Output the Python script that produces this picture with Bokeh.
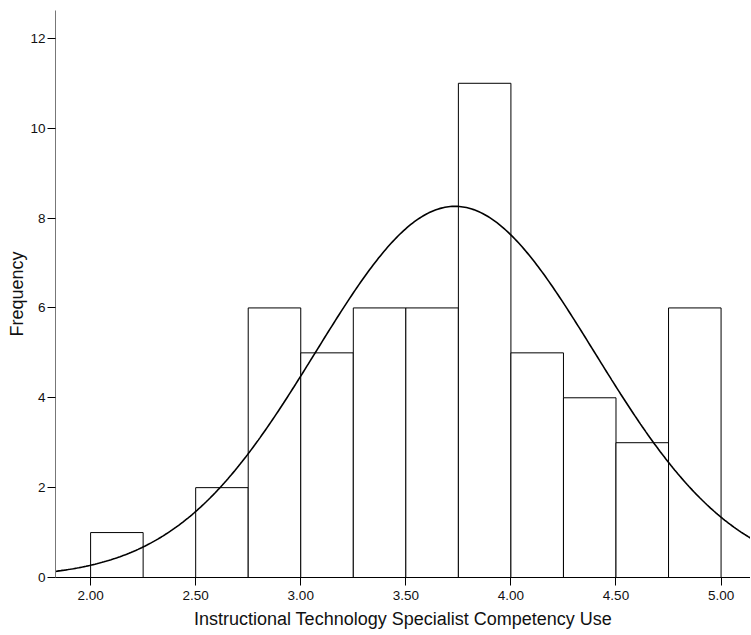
import numpy as np
from bokeh.plotting import figure
from bokeh.models import Range1d, FixedTicker, CustomJSTickFormatter
from bokeh.embed import file_html
from bokeh.resources import INLINE

# Histogram data
bin_left = [2.00, 2.25, 2.50, 2.75, 3.00, 3.25, 3.50, 3.75, 4.00, 4.25, 4.50, 4.75]
bin_right = [2.25, 2.50, 2.75, 3.00, 3.25, 3.50, 3.75, 4.00, 4.25, 4.50, 4.75, 5.00]
counts = [1, 0, 2, 6, 5, 6, 6, 11, 5, 4, 3, 6]

# Normal curve parameters (fitted)
mean_val = 3.734
sd_val = 0.664
n_total = 55
bin_width = 0.25

x_ticks = [2.0, 2.5, 3.0, 3.5, 4.0, 4.5, 5.0]
y_ticks = [0, 2, 4, 6, 8, 10, 12]

X0, X1 = 1.833, 5.140
p = figure(width=750, height=631, output_backend="svg", toolbar_location=None,
           x_range=Range1d(X0, X1), y_range=Range1d(0, 12.62),
           min_border_left=55, min_border_right=0, min_border_top=10, min_border_bottom=54)
p.outline_line_color = None
p.grid.visible = False
p.background_fill_color = "white"
p.border_fill_color = "white"

p.quad(left=bin_left, right=bin_right, bottom=0, top=counts,
       fill_color="white", line_color="black", line_width=1)

xs = np.linspace(X0, X1 + 0.1, 400)
ys = n_total * bin_width / (sd_val * np.sqrt(2 * np.pi)) * np.exp(-0.5 * ((xs - mean_val) / sd_val) ** 2)
p.line(xs, ys, line_color="black", line_width=1.6)

font = "Liberation Sans"
p.xaxis.ticker = FixedTicker(ticks=x_ticks)
p.xaxis.formatter = CustomJSTickFormatter(code="return tick.toFixed(2);")
p.yaxis.ticker = FixedTicker(ticks=y_ticks)
for ax in (p.xaxis[0], p.yaxis[0]):
    ax.axis_line_color = "black"
    ax.major_tick_line_color = "black"
    ax.major_tick_out = 8
    ax.major_tick_in = 0
    ax.minor_tick_line_color = None
    ax.major_label_text_font = font
    ax.major_label_text_font_size = "13.5px"
    ax.major_label_text_color = "#111111"
    ax.axis_label_text_font = font
    ax.axis_label_text_font_size = "18px"
    ax.axis_label_text_font_style = "normal"
    ax.axis_label_text_color = "#111111"
p.yaxis.axis_line_color = "#777777"
p.xaxis.axis_label = "Instructional Technology Specialist Competency Use"
p.yaxis.axis_label = "Frequency"
p.xaxis.major_label_standoff = 5
p.yaxis.major_label_standoff = 2
p.xaxis.axis_label_standoff = 6
p.yaxis.axis_label_standoff = 0

open("out.html", "w").write(file_html(p, INLINE))
